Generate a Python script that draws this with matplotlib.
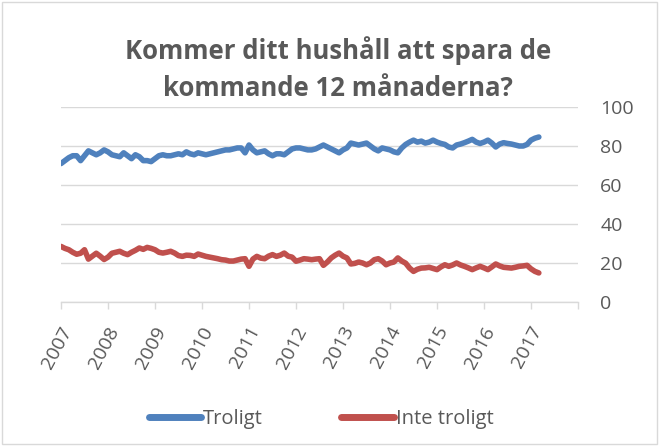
import numpy as np
import matplotlib
matplotlib.use("Agg")
import matplotlib.pyplot as plt
from matplotlib.lines import Line2D
from matplotlib.patches import Rectangle
from matplotlib.transforms import ScaledTranslation

plt.rcParams['font.family'] = ['Open Sans', 'DejaVu Sans']

# Monthly shares (%), Jan 2007 - Mar 2017
troligt = [
    71, 72.5, 74, 75, 75, 72.5, 75, 77.5, 76.5, 75.5, 76.5, 78,
    77, 75.5, 75, 74.5, 76.5, 75, 73.5, 75.5, 74.5, 72.5, 72.5, 72,
    73.5, 75, 75.5, 75, 75, 75.5, 76, 75.5, 77, 76, 75.5, 76.5,
    76, 75.5, 76, 76.5, 77, 77.5, 78, 78, 78.5, 79, 79, 76.5,
    80.5, 78, 76.5, 77, 77.5, 76, 75, 76, 76, 75.5, 77, 78.5,
    79, 79, 78.5, 78, 78, 78.5, 79.5, 80.5, 79.5, 78.5, 77.5, 76.5,
    78, 79, 81.5, 81, 80.5, 81, 81.5, 80, 78.5, 77.5, 79, 78.5,
    78, 77, 76.5, 79, 80.8, 82, 83, 82, 82.5, 81.5, 82, 83,
    82, 81.3, 80.8, 79.5, 79, 80.5, 81, 81.7, 82.5, 83.4, 82, 81.3,
    82, 83, 81.5, 79.5, 81, 81.7, 81.3, 81, 80.5, 80, 80, 80.8,
    83, 84, 84.6,
]
inte_troligt = [
    28.5, 27.5, 26.8, 25.5, 24.5, 25, 26.8, 22, 23.5, 25, 23.5, 21.8,
    23, 25, 25.5, 26, 25, 24.3, 25.5, 26.5, 27.7, 27, 28, 27.5,
    26.8, 25.5, 25.1, 25.5, 26, 25.1, 23.8, 23.4, 24, 23.9, 23.4, 24.6,
    24, 23.4, 23, 22.6, 22.2, 21.7, 21.5, 21, 21, 21.5, 22, 22.2,
    18.3, 22, 23.4, 22.5, 22.2, 23.5, 24.3, 23.4, 24, 25.1, 23.5, 23,
    20.9, 21.5, 22.2, 22, 21.7, 22, 22.2, 18.8, 20.5, 22.6, 24, 25.1,
    23.5, 22.6, 19.5, 19.8, 20.5, 20, 19.1, 20, 21.7, 22.2, 21, 19.1,
    20, 20.5, 22.6, 21, 19.9, 17.4, 15.7, 16.8, 17.4, 17.5, 17.8, 17.2,
    16.6, 18, 19.1, 18.3, 19, 20, 19, 18.3, 17.5, 16.6, 17.5, 18.3,
    17.5, 16.6, 18, 19.5, 18.5, 17.8, 17.6, 17.4, 17.8, 18.3, 18.5, 18.8,
    17, 15.7, 14.9,
]
years = ['2007', '2008', '2009', '2010', '2011', '2012',
         '2013', '2014', '2015', '2016', '2017']
y_ticks = [0, 20, 40, 60, 80, 100]

BLUE = '#4f81bd'
RED = '#c0504d'
TEXT = '#595959'
GRID = '#d9d9d9'

fig = plt.figure(figsize=(6.6, 4.46), dpi=100)
fig.patches.append(Rectangle((0.003, 0.004), 0.992, 0.992, transform=fig.transFigure,
                             fill=False, edgecolor=GRID, lw=1))

ax = fig.add_axes([61 / 660, 1 - 302 / 446, 517 / 660, 195 / 446])

x = np.arange(len(troligt))
ax.plot(x, troligt, color=BLUE, lw=4.0, solid_capstyle='round', solid_joinstyle='round')
ax.plot(x, inte_troligt, color=RED, lw=4.0, solid_capstyle='round', solid_joinstyle='round')

ax.set_xlim(0, 132)
ax.set_ylim(0, 100)

ax.set_yticks(y_ticks)
ax.yaxis.tick_right()
ax.tick_params(axis='y', length=0, pad=16, labelsize=14, labelcolor=TEXT)
for lab in ax.get_yticklabels():
    lab.set_horizontalalignment('left')

ax.set_xticks(np.arange(0, 133, 12))
ax.set_xticklabels(years + [''])
ax.tick_params(axis='x', length=5, width=1, color=GRID, pad=12,
               labelsize=14, labelcolor=TEXT)
shift = ScaledTranslation(7 / 100, -2 / 100, fig.dpi_scale_trans)
for lab in ax.get_xticklabels():
    lab.set_rotation(62)
    lab.set_horizontalalignment('right')
    lab.set_verticalalignment('center')
    lab.set_rotation_mode('anchor')
    lab.set_transform(lab.get_transform() + shift)

ax.grid(axis='y', color=GRID, lw=1)
ax.set_axisbelow(True)
for side in ['top', 'left', 'right']:
    ax.spines[side].set_visible(False)
ax.spines['bottom'].set_color(GRID)
ax.spines['bottom'].set_linewidth(1)

fig.text(0.512, 1 - 69 / 446, 'Kommer ditt hushåll att spara de\nkommande 12 månaderna?',
         ha='center', va='center', fontsize=18.5, fontweight='bold', color=TEXT,
         linespacing=1.45)

handles = [Line2D([], [], color=BLUE, lw=5, solid_capstyle='round'),
           Line2D([], [], color=RED, lw=5, solid_capstyle='round')]
fig.legend(handles, ['Troligt', 'Inte troligt'], loc='center',
           bbox_to_anchor=(321 / 660, 1 - 419 / 446), ncol=2, frameon=False,
           fontsize=14.5, labelcolor=TEXT, handlelength=2.6, handletextpad=0.1,
           columnspacing=3.9)

fig.savefig('out.png', dpi=100)
